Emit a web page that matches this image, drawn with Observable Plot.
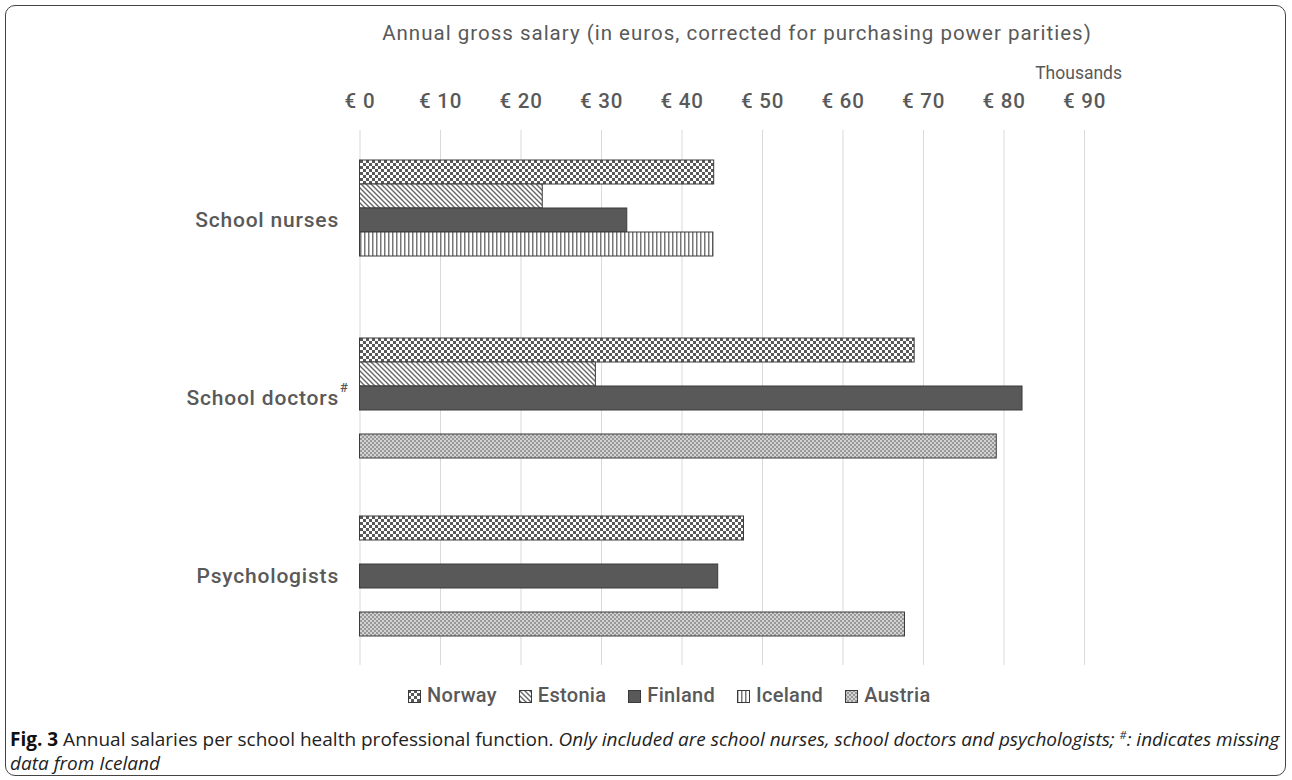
<!DOCTYPE html>
<html>
<head>
<meta charset="utf-8">
<script src="https://cdn.jsdelivr.net/npm/d3@7"></script>
<script src="https://cdn.jsdelivr.net/npm/@observablehq/plot@0.6"></script>
<style>
  html, body { margin: 0; padding: 0; background: #fff; }
  #page { position: relative; width: 1292px; height: 780px; overflow: hidden; }
  #frame { position: absolute; left: 5px; top: 5px; width: 1281px; height: 771px;
           border: 1.5px solid #444; border-radius: 10px; box-sizing: border-box; }
  #title { position: absolute; left: 0; width: 1474px; top: 21px; text-align: center;
           font-family: Roboto, sans-serif; font-size: 20.5px; letter-spacing: 1px; color: #595959; }
  #thousands { position: absolute; right: 170px; top: 63px;
           font-family: Roboto, sans-serif; font-size: 17.5px; color: #595959; }
  #grid, #chart { position: absolute; left: 0; top: 0; }
  #legend { position: absolute; left: 408px; top: 683px; display: flex; justify-content: flex-start;
            gap: 22px; font-family: Roboto, sans-serif; font-weight: 500; font-size: 20px; letter-spacing: 0.3px; color: #595959; }
  #legend .item { display: flex; align-items: center; gap: 6px; }
  #legend svg { display: block; margin-top: 2px; }
  #caption { position: absolute; left: 10px; top: 723px; width: 1280px;
             font-family: "Open Sans", sans-serif; font-size: 19px; line-height: 24px; color: #222; white-space: nowrap; }
  #caption b { font-weight: 700; color: #111; }
  #caption i sup { font-size: 11px; }
</style>
</head>
<body>
<div id="page">
  <svg width="0" height="0" style="position:absolute">
    <defs>
      <pattern id="pat-Norway" width="6" height="6" patternUnits="userSpaceOnUse">
        <rect width="6" height="6" fill="#ffffff"/>
        <rect x="0" y="0" width="3" height="3" fill="#595959"/>
        <rect x="3" y="3" width="3" height="3" fill="#595959"/>
      </pattern>
      <pattern id="pat-Estonia" width="5" height="5" patternUnits="userSpaceOnUse">
        <rect width="5" height="5" fill="#ffffff"/>
        <path d="M0,0L5,5M-1,4L1,6M4,-1L6,1" stroke="#666" stroke-width="1.4"/>
      </pattern>
      <pattern id="pat-Finland" width="4" height="4" patternUnits="userSpaceOnUse">
        <rect width="4" height="4" fill="#595959"/>
      </pattern>
      <pattern id="pat-Iceland" width="4" height="4" patternUnits="userSpaceOnUse">
        <rect width="4" height="4" fill="#ffffff"/>
        <rect x="0" y="0" width="1.5" height="4" fill="#777"/>
      </pattern>
      <pattern id="pat-Austria" width="4" height="4" patternUnits="userSpaceOnUse">
        <rect width="4" height="4" fill="#d2d2d2"/>
        <rect x="0" y="0" width="2" height="2" fill="#989898"/>
        <rect x="2" y="2" width="2" height="2" fill="#989898"/>
      </pattern>
    </defs>
  </svg>
  <div id="frame"></div>
  <div id="grid"></div>
  <div id="chart"></div>
  <div id="title">Annual gross salary (in euros, corrected for purchasing power parities)</div>
  <div id="thousands">Thousands</div>
  <div id="legend"></div>
  <div id="caption"><b>Fig. 3</b> Annual salaries per school health professional function. <i>Only included are school nurses, school doctors and psychologists; <sup>#</sup>: indicates missing</i><br><i>data from Iceland</i></div>
</div>
<script>
// ---- data (thousands of euros, PPP corrected) ----
const categories = ["School nurses", "School doctors#", "Psychologists"];
const countries = ["Norway", "Estonia", "Finland", "Iceland", "Austria"];
const norway  = [44.0, 68.9, 47.7];
const estonia = [22.7, 29.3, null];
const finland = [33.2, 82.3, 44.5];
const iceland = [43.9, null, null];
const austria = [null, 79.1, 67.7];
const xTicks = [0, 10, 20, 30, 40, 50, 60, 70, 80, 90];

const series = {Norway: norway, Estonia: estonia, Finland: finland, Iceland: iceland, Austria: austria};
const data = [];
categories.forEach((c, i) => {
  countries.forEach(k => {
    const v = series[k][i];
    if (v != null) data.push({category: c, country: k, value: v});
  });
});
const patternUrls = countries.map(k => `url(#pat-${k})`);

const layout = {width: 1292, height: 680, marginLeft: 359.5, marginRight: 208, marginTop: 130, marginBottom: 15};
const xScale = {domain: [0, 90], ticks: xTicks, tickFormat: d => "€ " + d, tickSize: 0, label: null};

// continuous vertical gridlines (drawn beneath the faceted bars)
const grid = Plot.plot({
  ...layout,
  style: {background: "transparent"},
  x: {...xScale, axis: null},
  marks: [Plot.ruleX(xTicks, {x: d => d, stroke: "#d9d9d9", strokeWidth: 1})]
});
document.getElementById("grid").appendChild(grid);

const chart = Plot.plot({
  ...layout,
  style: {fontFamily: "Roboto, sans-serif", fontSize: "20.5px", fontWeight: 500, letterSpacing: "0.8px", color: "#595959", background: "transparent"},
  x: {...xScale, axis: "top", tickPadding: 51},
  fy: {domain: categories, paddingInner: 0.31, paddingOuter: 0.155, axis: "left", label: null, tickSize: 0, tickPadding: 21},
  y: {domain: countries, axis: null, padding: 0},
  color: {domain: countries, range: patternUrls},
  marks: [
    Plot.barX(data, {fy: "category", y: "country", x: "value", fill: "country", stroke: "#3a3a3a", strokeWidth: 1})
  ]
});
document.getElementById("chart").appendChild(chart);

// category labels a little larger; superscript marker on "School doctors#"
chart.querySelectorAll("text").forEach(t => {
  if (categories.includes(t.textContent)) t.setAttribute("font-size", "21px");
  if (t.textContent === "School doctors#") {
    t.textContent = "School doctors";
    const c = t.cloneNode(false);
    c.setAttribute("text-anchor", "start");
    c.setAttribute("font-size", "13px");
    const s = document.createElementNS("http://www.w3.org/2000/svg", "tspan");
    s.setAttribute("dy", "-0.75em");
    s.setAttribute("dx", "1");
    s.textContent = "#";
    c.appendChild(s);
    t.parentNode.appendChild(c);
  }
});

// legend
const legend = document.getElementById("legend");
countries.forEach((k, i) => {
  const item = document.createElement("div");
  item.className = "item";
  item.innerHTML = `<svg width="13" height="13"><rect x="0.5" y="0.5" width="12" height="12" fill="${patternUrls[i]}" stroke="#3a3a3a" stroke-width="1"/></svg><span>${k}</span>`;
  legend.appendChild(item);
});
</script>
</body>
</html>
